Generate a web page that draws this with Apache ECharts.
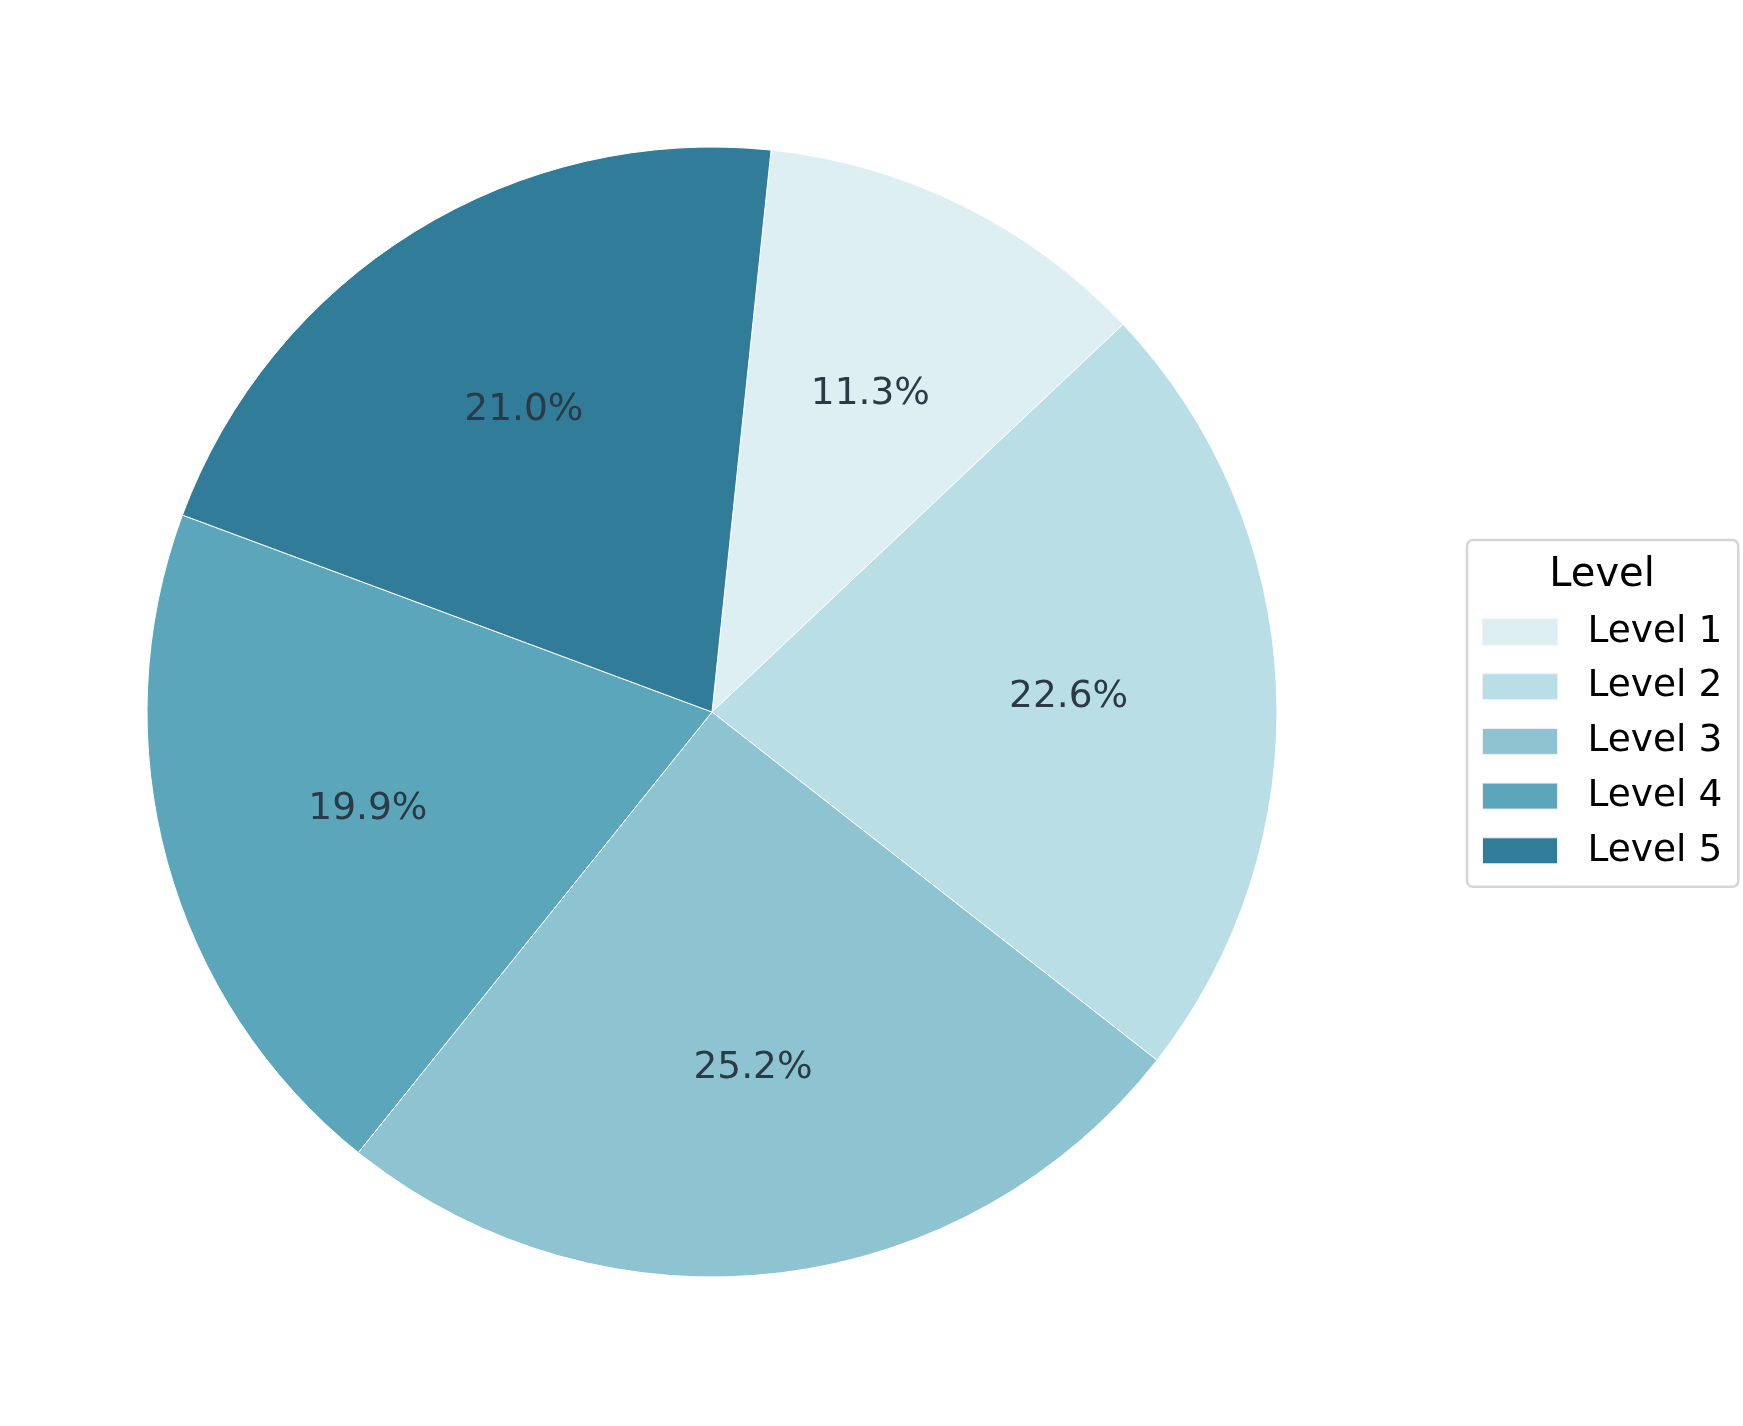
<!DOCTYPE html>
<html>
<head>
<meta charset="utf-8">
<script src="https://cdn.jsdelivr.net/npm/echarts@6/dist/echarts.min.js"></script>
<style>
html,body{margin:0;padding:0;background:#fff;}
#chart{width:1743px;height:1426px;}
</style>
</head>
<body>
<div id="chart"></div>
<script>
const categories = ['Level 1', 'Level 2', 'Level 3', 'Level 4', 'Level 5'];
const values = [11.3, 22.6, 25.2, 19.9, 21.0];
const colors = ['#ddeff3', '#b9dee6', '#8ec3d1', '#5ca6bc', '#317c98'];
const legendTitle = 'Level';

const FONT = 'DejaVu Sans';
const cx = 712, cy = 712, R = 565, labelR0 = 143;

const pieData = categories.map((c, i) => ({ name: c, value: values[i], itemStyle: { color: colors[i] } }));
const labelData = categories.map((c, i) => ({ name: c, value: values[i] }));

const chart = echarts.init(document.getElementById('chart'), null, { renderer: 'canvas' });
chart.setOption({
  backgroundColor: '#ffffff',
  animation: false,
  title: {
    text: legendTitle,
    left: 1597,
    top: 551,
    textAlign: 'center',
    z: 20,
    textStyle: { fontFamily: FONT, fontSize: 40, fontWeight: 'normal', color: '#000', lineHeight: 40 }
  },
  legend: {
    orient: 'vertical',
    left: 1467,
    top: 540,
    data: categories,
    icon: 'rect',
    itemWidth: 75,
    itemHeight: 26,
    itemGap: 16.7,
    padding: [73, 16, 17, 15],
    backgroundColor: '#ffffff',
    borderColor: '#d6d6d6',
    borderWidth: 2.5,
    borderRadius: 6,
    selectedMode: false,
    itemStyle: { borderColor: '#f0f0f4', borderWidth: 1 },
    textStyle: { fontFamily: FONT, fontSize: 37.5, color: '#000', lineHeight: 38, padding: [0, 0, 0, 25] }
  },
  series: [
    {
      type: 'pie',
      center: [cx, cy],
      radius: [0, R],
      startAngle: 84,
      clockwise: true,
      data: pieData,
      label: { show: false },
      labelLine: { show: false },
      itemStyle: { borderColor: '#ffffff', borderWidth: 1 },
      emphasis: { disabled: true }
    },
    {
      type: 'pie',
      center: [cx, cy],
      radius: [labelR0, R],
      startAngle: 84,
      clockwise: true,
      silent: true,
      legendHoverLink: false,
      data: labelData,
      itemStyle: { color: 'rgba(0,0,0,0)', borderWidth: 0 },
      label: {
        show: true,
        position: 'inside',
        fontFamily: FONT,
        fontSize: 37.5,
        color: '#2b3a44',
        offset: [0, 2],
        formatter: p => p.value.toFixed(1) + '%'
      },
      labelLine: { show: false },
      emphasis: { disabled: true }
    }
  ]
});
</script>
</body>
</html>
